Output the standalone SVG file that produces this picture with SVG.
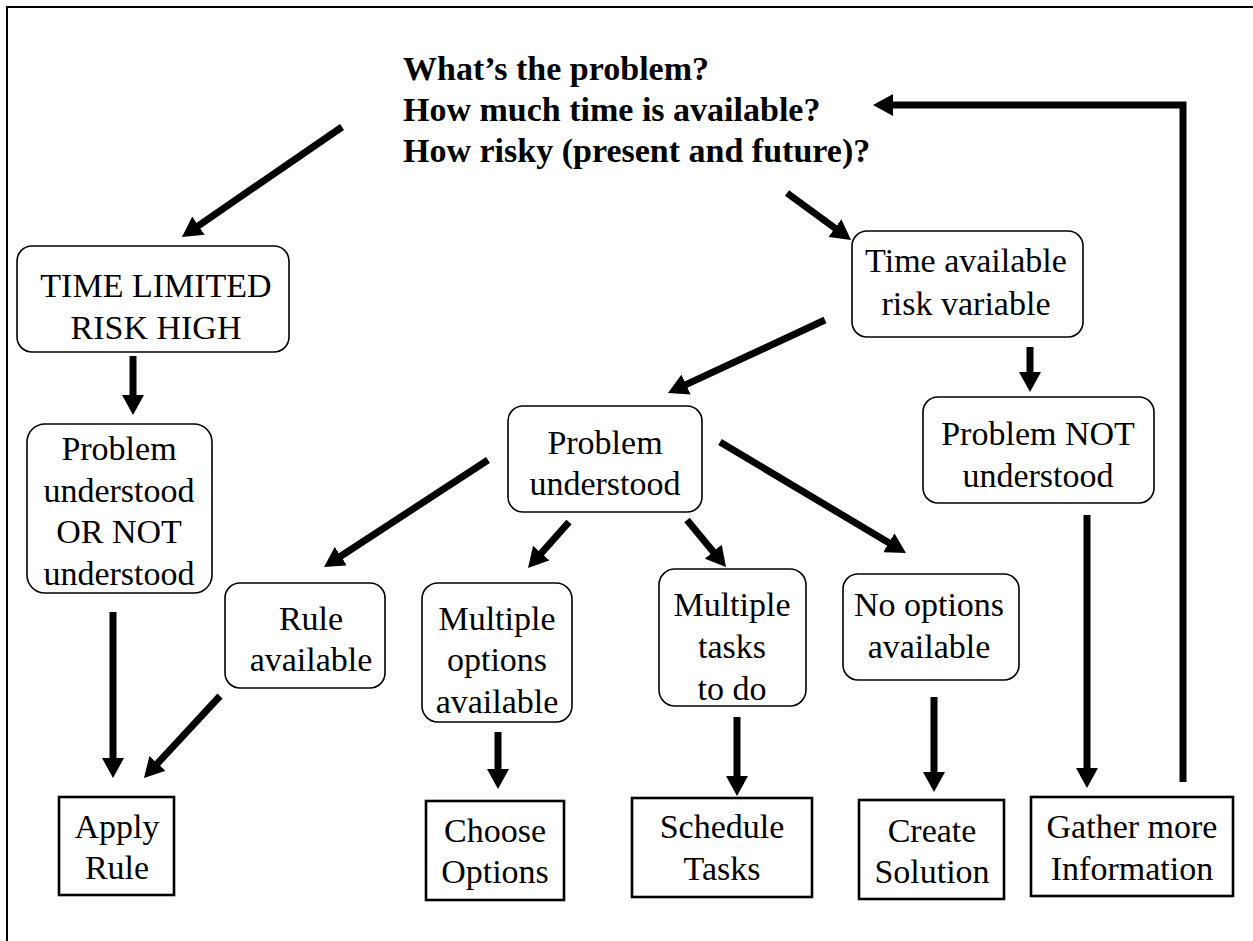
<svg xmlns="http://www.w3.org/2000/svg" width="1253" height="941" viewBox="0 0 1253 941">
  <style>
    .frame { fill: none; stroke: #000; stroke-width: 2; }
    .rbox { fill: #fff; stroke: #000; stroke-width: 1.6; }
    .sbox { fill: #fff; stroke: #000; stroke-width: 2.6; }
    .lbl { font-family: "Liberation Serif", "Times New Roman", serif; font-size: 34px; fill: #000; text-anchor: middle; }
    .head { font-family: "Liberation Serif", "Times New Roman", serif; font-size: 34px; font-weight: bold; fill: #000; }
    .arrow { fill: none; stroke: #000; stroke-width: 7; marker-end: url(#ah); }
    .line { fill: none; stroke: #000; stroke-width: 7; }
  </style>
  <defs>
    <marker id="ah" viewBox="0 0 20 22" refX="2" refY="11" markerWidth="20" markerHeight="22" markerUnits="userSpaceOnUse" orient="auto">
      <path d="M0,0 L20,11 L0,22 z" fill="#000"/>
    </marker>
  </defs>

  <rect width="1253" height="941" fill="#fff"/>
  <!-- page frame -->
  <path class="frame" d="M7,941 V7 H1253"/>

  <!-- question header -->
  <g id="questions">
    <text class="head" x="403" y="80">What’s the problem?</text>
    <text class="head" x="403" y="121">How much time is available?</text>
    <text class="head" x="403" y="162">How risky (present and future)?</text>
  </g>

  <!-- connectors -->
  <g id="connectors">
    <line class="arrow" x1="342" y1="127" x2="196.8" y2="226.8"/>
    <line class="arrow" x1="787" y1="193" x2="836.5" y2="229.3"/>
    <line class="arrow" x1="133" y1="356" x2="133" y2="397"/>
    <line class="arrow" x1="825" y1="320" x2="684.3" y2="385.4"/>
    <line class="arrow" x1="1030" y1="347" x2="1030" y2="374"/>
    <line class="arrow" x1="488" y1="460" x2="339.1" y2="557.2"/>
    <line class="arrow" x1="569" y1="522" x2="540" y2="554.6"/>
    <line class="arrow" x1="687" y1="520" x2="714.5" y2="553.2"/>
    <line class="arrow" x1="720" y1="442" x2="890.5" y2="543.8"/>
    <line class="arrow" x1="113" y1="612" x2="113" y2="760"/>
    <line class="arrow" x1="220" y1="696" x2="156.2" y2="764.8"/>
    <line class="arrow" x1="498" y1="732" x2="498" y2="771"/>
    <line class="arrow" x1="737" y1="717" x2="737" y2="778"/>
    <line class="arrow" x1="934" y1="697" x2="934" y2="774"/>
    <line class="arrow" x1="1087" y1="515" x2="1087" y2="770"/>
    <polyline class="arrow" points="1183,782 1183,105 891,105"/>
  </g>

  <!-- decision nodes -->
  <g id="time-limited">
    <rect class="rbox" x="17" y="246" width="272" height="106" rx="15"/>
    <text class="lbl" x="156" y="297">TIME LIMITED</text>
    <text class="lbl" x="156" y="339">RISK HIGH</text>
  </g>
  <g id="time-available">
    <rect class="rbox" x="852" y="231" width="231" height="106" rx="15"/>
    <text class="lbl" x="966" y="272">Time available</text>
    <text class="lbl" x="966" y="315">risk variable</text>
  </g>
  <g id="understood-or-not">
    <rect class="rbox" x="27" y="424" width="185" height="169" rx="18"/>
    <text class="lbl" x="119" y="460">Problem</text>
    <text class="lbl" x="119" y="502">understood</text>
    <text class="lbl" x="119" y="543">OR NOT</text>
    <text class="lbl" x="119" y="585">understood</text>
  </g>
  <g id="understood">
    <rect class="rbox" x="508" y="406" width="194" height="106" rx="15"/>
    <text class="lbl" x="605" y="454">Problem</text>
    <text class="lbl" x="605" y="495">understood</text>
  </g>
  <g id="not-understood">
    <rect class="rbox" x="923" y="397" width="231" height="106" rx="15"/>
    <text class="lbl" x="1038" y="445">Problem NOT</text>
    <text class="lbl" x="1038" y="487">understood</text>
  </g>
  <g id="rule-available">
    <rect class="rbox" x="225" y="583" width="160" height="105" rx="15"/>
    <text class="lbl" x="311" y="630">Rule</text>
    <text class="lbl" x="311" y="671">available</text>
  </g>
  <g id="multiple-options">
    <rect class="rbox" x="422" y="583" width="150" height="139" rx="16"/>
    <text class="lbl" x="497" y="630">Multiple</text>
    <text class="lbl" x="497" y="671">options</text>
    <text class="lbl" x="497" y="713">available</text>
  </g>
  <g id="multiple-tasks">
    <rect class="rbox" x="659" y="569" width="147" height="137" rx="16"/>
    <text class="lbl" x="732" y="616">Multiple</text>
    <text class="lbl" x="732" y="658">tasks</text>
    <text class="lbl" x="732" y="700">to do</text>
  </g>
  <g id="no-options">
    <rect class="rbox" x="843" y="574" width="176" height="106" rx="15"/>
    <text class="lbl" x="929" y="616">No options</text>
    <text class="lbl" x="929" y="658">available</text>
  </g>

  <!-- action nodes -->
  <g id="apply-rule">
    <rect class="sbox" x="59" y="797" width="115" height="98"/>
    <text class="lbl" x="117" y="838">Apply</text>
    <text class="lbl" x="117" y="879">Rule</text>
  </g>
  <g id="choose-options">
    <rect class="sbox" x="426" y="801" width="138" height="99"/>
    <text class="lbl" x="495" y="842">Choose</text>
    <text class="lbl" x="495" y="883">Options</text>
  </g>
  <g id="schedule-tasks">
    <rect class="sbox" x="632" y="798" width="180" height="99"/>
    <text class="lbl" x="722" y="838">Schedule</text>
    <text class="lbl" x="722" y="880">Tasks</text>
  </g>
  <g id="create-solution">
    <rect class="sbox" x="859" y="800" width="145" height="99"/>
    <text class="lbl" x="932" y="842">Create</text>
    <text class="lbl" x="932" y="883">Solution</text>
  </g>
  <g id="gather-information">
    <rect class="sbox" x="1031" y="797" width="202" height="99"/>
    <text class="lbl" x="1132" y="838">Gather more</text>
    <text class="lbl" x="1132" y="880">Information</text>
  </g>
</svg>
